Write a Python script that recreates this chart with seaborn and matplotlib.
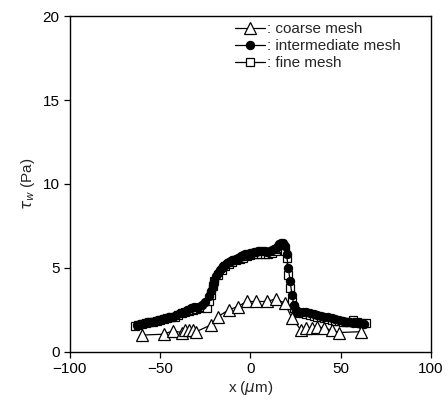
import matplotlib
matplotlib.use('Agg')
import matplotlib.pyplot as plt
import pandas as pd
import seaborn as sns

# wall shear stress along x, three mesh resolutions
coarse_x = [-60, -48, -43, -38, -36, -34, -32, -30, -22, -18, -12, -7, -2, 3, 9, 14, 19,
            23, 28, 31, 34, 37, 41, 45, 49, 61]
coarse_tau = [1.0, 1.05, 1.25, 1.15, 1.3, 1.3, 1.3, 1.2, 1.6, 2.1, 2.5, 2.7, 3.0, 3.0, 3.0,
              3.15, 2.9, 2.0, 1.3, 1.4, 1.45, 1.5, 1.4, 1.3, 1.15, 1.2]

inter_x = [-63, -61, -59, -57, -55, -53, -51, -49, -47, -45, -43, -41, -39, -37, -35, -33,
           -31, -29, -27, -25, -23, -22, -21, -20, -19, -18, -17, -16, -15, -14, -13, -12,
           -11, -10, -9, -8, -7, -6, -5, -4, -3, -2, -1, 0, 1, 2, 3, 4, 5, 6, 7, 8, 9, 10,
           11, 12, 13, 14, 15, 16, 17, 18, 19, 20, 21, 22, 23, 24, 25, 26, 27, 29, 31, 33,
           35, 37, 39, 41, 43, 45, 47, 49, 51, 53, 55, 57, 59, 61, 63]
inter_tau = [1.6, 1.65, 1.7, 1.75, 1.8, 1.85, 1.9, 1.95, 2.0, 2.05, 2.1, 2.2, 2.3, 2.4, 2.5,
             2.6, 2.65, 2.7, 2.8, 2.95, 3.3, 3.6, 3.9, 4.2, 4.5, 4.7, 4.85, 5.0, 5.1, 5.2,
             5.3, 5.35, 5.4, 5.45, 5.5, 5.55, 5.6, 5.65, 5.7, 5.75, 5.8, 5.85, 5.85, 5.9,
             5.9, 5.95, 5.95, 6.0, 6.0, 6.0, 6.0, 6.0, 5.95, 5.95, 6.0, 6.05, 6.1, 6.2, 6.3,
             6.4, 6.5, 6.5, 6.3, 5.8, 5.0, 4.2, 3.4, 2.8, 2.5, 2.4, 2.4, 2.4, 2.35, 2.3,
             2.25, 2.2, 2.15, 2.1, 2.05, 2.0, 1.95, 1.9, 1.85, 1.8, 1.75, 1.7, 1.7, 1.65, 1.65]

fine_x = [-64, -62, -60, -58, -56, -54, -52, -50, -48, -46, -44, -42, -40, -38, -36, -34,
          -32, -30, -28, -26, -24, -23, -22, -21, -20, -18, -16, -14, -12, -10, -8, -6, -4,
          -2, 0, 2, 4, 6, 8, 10, 12, 14, 16, 18, 19, 20, 21, 22, 23, 24, 25, 27, 29, 31, 33,
          35, 37, 39, 41, 43, 45, 47, 49, 51, 53, 55, 57, 59, 61, 64]
fine_tau = [1.55, 1.6, 1.65, 1.7, 1.75, 1.8, 1.85, 1.9, 1.95, 2.0, 2.05, 2.1, 2.2, 2.3, 2.4,
            2.45, 2.5, 2.55, 2.6, 2.65, 2.6, 3.0, 3.4, 3.9, 4.2, 4.6, 4.9, 5.1, 5.25, 5.35,
            5.45, 5.55, 5.6, 5.7, 5.75, 5.8, 5.85, 5.85, 5.85, 5.85, 5.9, 6.0, 6.1, 6.2, 6.0,
            5.6, 4.6, 3.8, 3.0, 2.6, 2.35, 2.3, 2.3, 2.25, 2.2, 2.15, 2.1, 2.05, 2.0, 1.95,
            1.9, 1.85, 1.85, 1.8, 1.75, 1.75, 1.9, 1.75, 1.7, 1.7]

sns.set_style("ticks")
plt.rcParams['font.family'] = ['Liberation Sans', 'DejaVu Sans']
plt.rcParams['mathtext.fontset'] = 'dejavusans'

fig = plt.figure(figsize=(4.48, 4.12), dpi=100)
ax = fig.add_axes([0.156, 0.146, 0.806, 0.815])

coarse_df = pd.DataFrame({'x': coarse_x, 'tau': coarse_tau})
inter_df = pd.DataFrame({'x': inter_x, 'tau': inter_tau})
fine_df = pd.DataFrame({'x': fine_x, 'tau': fine_tau})

sns.lineplot(data=coarse_df, x='x', y='tau', ax=ax, sort=False, color='black', lw=0.9,
             marker='^', markersize=8, markerfacecolor='white', markeredgecolor='black',
             markeredgewidth=0.9, label=': coarse mesh', zorder=3)
sns.lineplot(data=inter_df, x='x', y='tau', ax=ax, sort=False, color='black', lw=0.9,
             marker='o', markersize=6, markerfacecolor='black', markeredgecolor='black',
             label=': intermediate mesh', zorder=2.5)
sns.lineplot(data=fine_df, x='x', y='tau', ax=ax, sort=False, color='black', lw=0.9,
             marker='s', markersize=6, markerfacecolor='white', markeredgecolor='black',
             markeredgewidth=0.9, label=': fine mesh', zorder=2)

ax.set_xlim(-100, 100)
ax.set_ylim(0, 20)
ax.set_xticks([-100, -50, 0, 50, 100])
ax.set_yticks([0, 5, 10, 15, 20])
ax.tick_params(labelsize=11, length=4, width=0.9, colors='black')
for sp in ax.spines.values():
    sp.set_visible(True)
    sp.set_linewidth(1.0)
    sp.set_color('black')

ax.set_xlabel(r'x ($\mu$m)', fontsize=11, labelpad=2)
ax.set_ylabel(r'$\tau_w$ (Pa)', fontsize=11, labelpad=4)

ax.legend(loc='upper left', bbox_to_anchor=(0.44, 1.0), frameon=False, fontsize=11,
          handlelength=2.0, handletextpad=0.1, labelspacing=0.2, borderaxespad=0.0)

fig.savefig('out.png', dpi=100)
